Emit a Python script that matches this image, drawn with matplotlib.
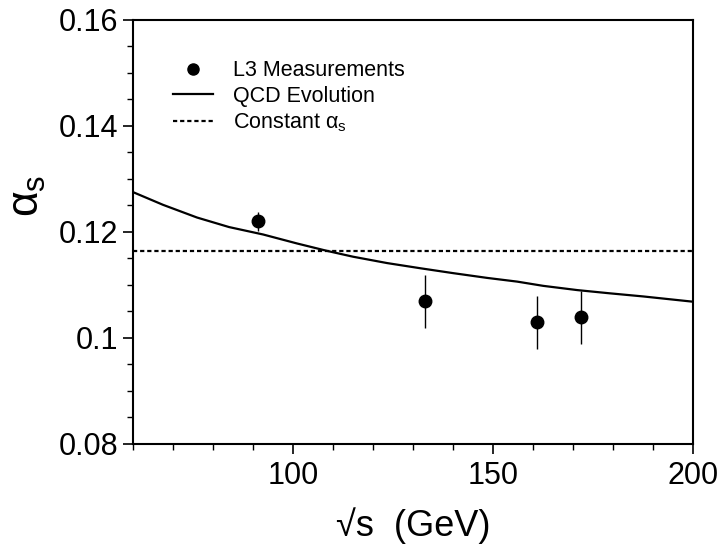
import matplotlib
matplotlib.use("Agg")
import matplotlib.pyplot as plt
from matplotlib.ticker import MultipleLocator
from matplotlib.lines import Line2D

plt.rcParams['font.family'] = ['Liberation Sans', 'DejaVu Sans']
plt.rcParams['mathtext.fontset'] = 'custom'
plt.rcParams['mathtext.rm'] = 'Liberation Sans'
plt.rcParams['mathtext.it'] = 'Liberation Sans'
plt.rcParams['mathtext.bf'] = 'Liberation Sans:bold'

# Data
meas_energy = [91.2, 133.0, 161.0, 172.0]
meas_alpha = [0.1220, 0.1069, 0.1029, 0.1039]
meas_err = [0.0018, 0.0050, 0.0050, 0.0050]

qcd_energy = [60, 67.5, 76, 84, 92.5, 101, 108.5, 115, 123.5, 132, 140,
              148.5, 156, 162.5, 171, 179, 187.5, 200]
qcd_alpha = [0.1275, 0.1251, 0.1227, 0.1209, 0.1195, 0.1178, 0.1164, 0.1153,
             0.1141, 0.1131, 0.1122, 0.1113, 0.1106, 0.1098, 0.1090, 0.1084,
             0.1078, 0.1068]

const_alpha = 0.1164

legend_labels = ['L3 Measurements', 'QCD Evolution', r'Constant $\alpha_s$']

fig = plt.figure(figsize=(7.24, 5.46), dpi=100)
ax = fig.add_axes([0.1837, 0.1874, 0.7739, 0.7760])

ax.errorbar(meas_energy, meas_alpha, yerr=meas_err, fmt='o', color='black',
            markersize=9, elinewidth=1.0, capsize=0, zorder=3)
ax.plot(qcd_energy, qcd_alpha, '-', color='black', lw=1.6)
ax.axhline(const_alpha, color='black', lw=1.6, dashes=(1.9, 1.3))

ax.set_xlim(60, 200)
ax.set_ylim(0.08, 0.16)
ax.xaxis.set_major_locator(MultipleLocator(50))
ax.xaxis.set_minor_locator(MultipleLocator(10))
ax.yaxis.set_minor_locator(MultipleLocator(0.005))
ax.set_yticks([0.08, 0.10, 0.12, 0.14, 0.16])
ax.set_yticklabels(['0.08', '0.1', '0.12', '0.14', '0.16'])

for sp in ax.spines.values():
    sp.set_linewidth(1.5)
ax.tick_params(which='major', direction='out', length=7.5, width=1.2,
               labelsize=22, top=False, right=False)
ax.tick_params(axis='y', which='major', pad=3)
ax.tick_params(axis='x', which='major', pad=5)
ax.tick_params(which='minor', direction='out', length=4, width=1.0,
               top=False, right=False)

ax.set_xlabel('\u221as  (GeV)', fontsize=26, labelpad=12)
ax.set_ylabel(r'$\alpha_s$', fontsize=32, rotation=90)
ax.yaxis.set_label_coords(-0.151, 0.585)

handles = [
    Line2D([], [], marker='o', color='black', linestyle='none', markersize=8),
    Line2D([], [], color='black', lw=1.6),
    Line2D([], [], color='black', lw=1.6, dashes=(1.9, 1.3)),
]
leg = ax.legend(handles, legend_labels, loc='upper left',
                bbox_to_anchor=(0.0709, 0.905),
                frameon=False, fontsize=15.5, handlelength=1.86,
                handletextpad=0.95, labelspacing=0.22, borderpad=0,
                borderaxespad=0)

fig.savefig('out.png', dpi=100)
